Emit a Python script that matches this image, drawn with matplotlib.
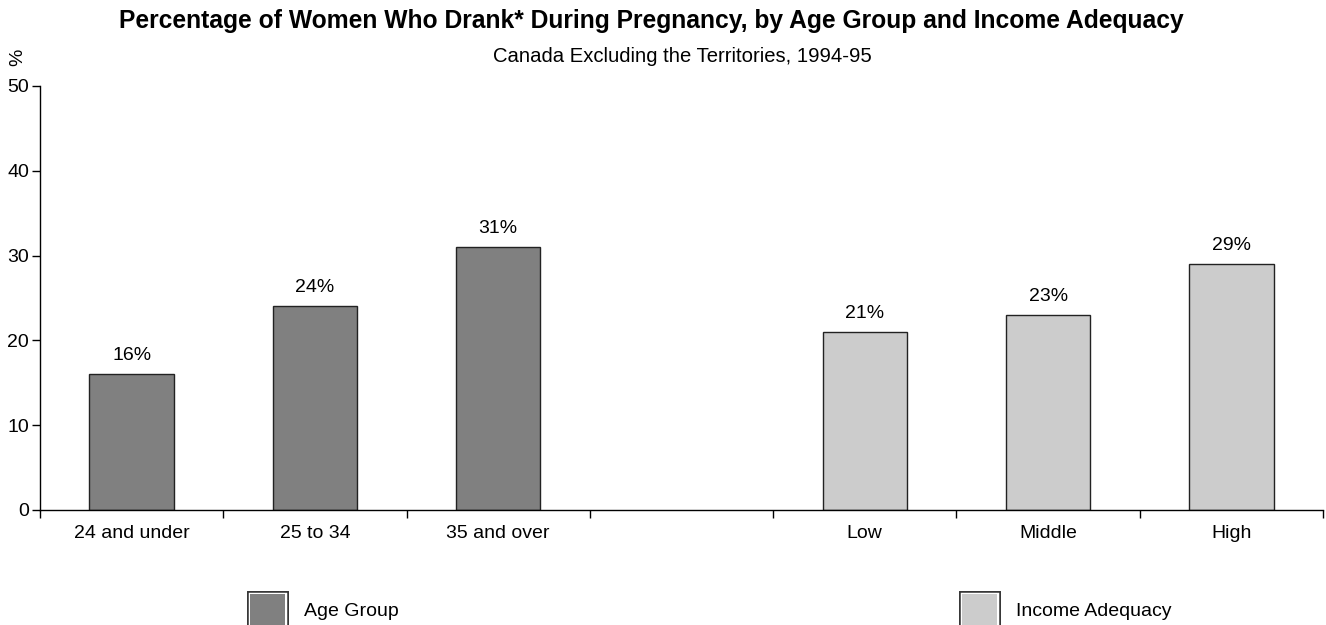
import matplotlib.pyplot as plt
import matplotlib.patheffects as pe
from matplotlib.patches import Patch

plt.rcParams["font.family"] = ["Liberation Sans", "DejaVu Sans"]

# categories (blank slot separates the two groups)
age_labels = ["24 and under", "25 to 34", "35 and over"]
age_values = [16, 24, 31]
income_labels = ["Low", "Middle", "High"]
income_values = [21, 23, 29]

DARK = "#808080"
LIGHT = "#cccccc"
EDGE = "#222222"
FS = 14

fig = plt.figure(figsize=(13.26, 6.25), dpi=100)
ax = fig.add_axes([40 / 1326, 1 - 510 / 625, 1283 / 1326, 424 / 625])

age_x = [0.5 + i for i in range(len(age_labels))]
inc_x = [4.5 + i for i in range(len(income_labels))]
width = 0.46

ax.bar(age_x, age_values, width, color=DARK, edgecolor=EDGE, linewidth=1)
ax.bar(inc_x, income_values, width, color=LIGHT, edgecolor=EDGE, linewidth=1)

for x, v in zip(age_x + inc_x, age_values + income_values):
    ax.text(x, v + 1.2, f"{v}%", ha="center", va="bottom", fontsize=FS)

ax.set_xlim(0, 7)
ax.set_ylim(0, 50)
ax.set_yticks(range(0, 51, 10))
ax.set_xticks(range(8))
ax.set_xticklabels([])
ax.set_xticks(age_x + [3.5] + inc_x, minor=True)
ax.set_xticklabels(age_labels + [""] + income_labels, minor=True)
ax.tick_params(axis="x", which="minor", length=0, pad=11, labelsize=FS)
ax.tick_params(axis="x", which="major", length=6, direction="out", width=1)
ax.tick_params(axis="y", length=6, width=1, labelsize=FS, pad=2)
for s in ["top", "right"]:
    ax.spines[s].set_visible(False)
for s in ["left", "bottom"]:
    ax.spines[s].set_linewidth(1)

fig.text(651 / 1326, 1 - 21 / 625, "Percentage of Women Who Drank* During Pregnancy, by Age Group and Income Adequacy",
         ha="center", va="center", fontsize=17.7, fontweight="bold")
fig.text(682 / 1326, 1 - 57 / 625, "Canada Excluding the Territories, 1994-95",
         ha="center", va="center", fontsize=14.6)
fig.text(18 / 1326, 1 - 57 / 625, "%", rotation=90, ha="center", va="center", fontsize=FS)

effects = [pe.Stroke(linewidth=5, foreground="#333333"),
           pe.Stroke(linewidth=2.5, foreground="white"), pe.Normal()]
h1 = Patch(facecolor=DARK, edgecolor="none", path_effects=effects)
h2 = Patch(facecolor=LIGHT, edgecolor="none", path_effects=effects)

for h, lab, x0 in [(h1, "Age Group", 250), (h2, "Income Adequacy", 962)]:
    fig.legend([h], [lab], loc="upper left", bbox_to_anchor=(x0 / 1326, 1 - 594 / 625),
               frameon=False, fontsize=FS, handlelength=1.8, handleheight=2.1,
               borderpad=0, borderaxespad=0, handletextpad=1.0)

fig.savefig("out.png", dpi=100)
